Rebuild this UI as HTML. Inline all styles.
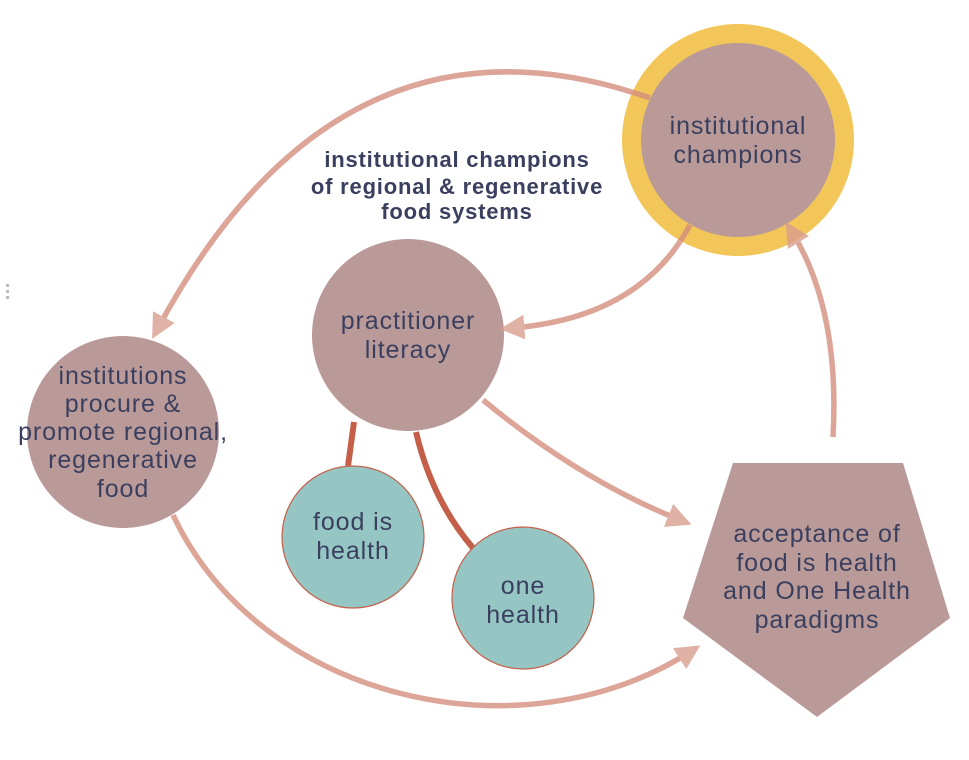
<!DOCTYPE html>
<html><head><style>
body{margin:0;background:#fff;}
svg{display:block;}
text{font-family:"Liberation Sans",sans-serif;fill:#3a3f5f;text-anchor:middle;}
</style></head><body>
<svg width="969" height="760" viewBox="0 0 969 760">
<defs>
<marker id="a" viewBox="0 0 10 10" refX="5" refY="5" markerWidth="4.5" markerHeight="4.5" orient="auto" markerUnits="strokeWidth">
<path d="M0,0 L10,5 L0,10 z" fill="#d99e8f"/></marker>
</defs>
<rect x="6" y="284" width="3" height="3" fill="#bbb"/><rect x="6" y="290" width="3" height="3" fill="#bbb"/><rect x="6" y="296" width="3" height="3" fill="#bbb"/>
<circle cx="738" cy="140" r="116" fill="#f3c65a"/>
<circle cx="738" cy="140" r="97" fill="#ba9a98"/>
<circle cx="408" cy="335" r="96" fill="#ba9a98"/>
<circle cx="123" cy="432" r="96" fill="#ba9a98"/>
<polygon points="733,463 903,463 950,618 817,717 683,618" fill="#ba9a98"/>
<path d="M354,422 L348,466" stroke="#c4604a" stroke-width="6" fill="none"/>
<path d="M416,432 Q432,500 473,548" stroke="#c4604a" stroke-width="6" fill="none"/>
<circle cx="353" cy="537" r="71" fill="#95c6c3" stroke="#c4604a" stroke-width="1.2"/>
<circle cx="523" cy="598" r="71" fill="#95c6c3" stroke="#c4604a" stroke-width="1.2"/>
<g stroke="#d48f7e" stroke-width="5.5" fill="none" opacity="0.8">
<path d="M650,98 Q340,-10 158,328" marker-end="url(#a)"/>
<path d="M690,225 Q640,318 512,328" marker-end="url(#a)"/>
<path d="M483,400 Q580,480 680,520" marker-end="url(#a)"/>
<path d="M173,515 C260,700 520,760 690,652" marker-end="url(#a)"/>
<path d="M833,437 Q840,310 792,232" marker-end="url(#a)"/>
</g>
<g font-size="25" letter-spacing="0.9">
<text x="738" y="134">institutional</text><text x="738" y="163">champions</text>
<text x="408" y="329">practitioner</text><text x="408" y="358">literacy</text>
<text x="123" y="384">institutions</text><text x="123" y="412">procure &amp;</text><text x="123" y="440">promote regional,</text><text x="123" y="468">regenerative</text><text x="123" y="497">food</text>
<text x="353" y="530">food is</text><text x="353" y="559">health</text>
<text x="523" y="594">one</text><text x="523" y="623">health</text>
<text x="817" y="542">acceptance of</text><text x="817" y="571">food is health</text><text x="817" y="599">and One Health</text><text x="817" y="628">paradigms</text>
</g>
<g font-size="22" font-weight="bold" letter-spacing="0.8">
<text x="457" y="167">institutional champions</text>
<text x="457" y="194">of regional &amp; regenerative</text>
<text x="457" y="219">food systems</text>
</g>
</svg>
</body></html>
